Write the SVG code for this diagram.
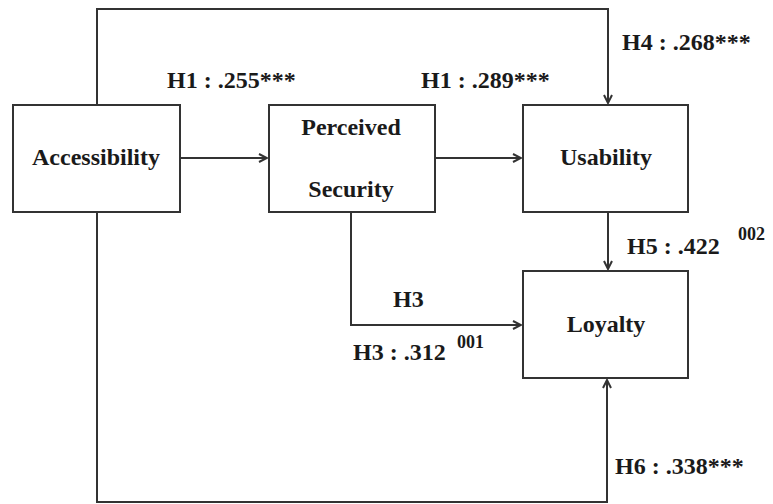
<svg xmlns="http://www.w3.org/2000/svg" width="773" height="504" viewBox="0 0 773 504" font-family="'Liberation Serif', 'Times New Roman', serif">
<defs>
<marker id="arr" viewBox="0 0 10 10" refX="9" refY="5" markerWidth="10" markerHeight="10" markerUnits="userSpaceOnUse" orient="auto">
<path d="M1,1 L9,5 L1,9" fill="none" stroke="#333" stroke-width="2"/>
</marker>
<style>
.box{fill:#fff;stroke:#333;stroke-width:2}
.ln{fill:none;stroke:#333;stroke-width:2}
text{font-family:'Liberation Serif','Times New Roman',serif;font-weight:bold;fill:#1a1a1a}
.lbl{font-size:24px}
.nm{font-size:24px;text-anchor:middle}
.sup{font-size:18px}
</style>
</defs>
<rect width="773" height="504" fill="#fff"/>
<g id="connectors">
<path class="ln" d="M97,105 V9 H608 V103" marker-end="url(#arr)"/>
<path class="ln" d="M165,158 H267" marker-end="url(#arr)"/>
<path class="ln" d="M435,158 H521" marker-end="url(#arr)"/>
<path class="ln" d="M608,212 V269" marker-end="url(#arr)"/>
<path class="ln" d="M351,212 V325 H521" marker-end="url(#arr)"/>
<path class="ln" d="M97,212 V502 H607 V380" marker-end="url(#arr)"/>
</g>
<g id="accessibility">
<rect class="box" x="13" y="105" width="167" height="107"/>
<text class="nm" x="96" y="165">Accessibility</text>
</g>
<g id="perceived-security">
<rect class="box" x="269" y="105" width="166" height="107"/>
<text class="nm" x="351" y="135">Perceived</text>
<text class="nm" x="351" y="197">Security</text>
</g>
<g id="usability">
<rect class="box" x="523" y="105" width="165" height="107"/>
<text class="nm" x="606" y="165">Usability</text>
</g>
<g id="loyalty">
<rect class="box" x="523" y="271" width="165" height="107"/>
<text class="nm" x="606" y="332">Loyalty</text>
</g>
<g id="labels">
<text class="lbl" x="167" y="88">H1 : .255***</text>
<text class="lbl" x="421" y="88">H1 : .289***</text>
<text class="lbl" x="622" y="50">H4 : .268***</text>
<text class="lbl" x="627" y="254">H5 : .422</text>
<text class="sup" x="738" y="240">002</text>
<text class="lbl" x="393" y="307">H3</text>
<text class="lbl" x="353" y="360">H3 : .312</text>
<text class="sup" x="457" y="348">001</text>
<text class="lbl" x="615" y="474">H6 : .338***</text>
</g>
</svg>
